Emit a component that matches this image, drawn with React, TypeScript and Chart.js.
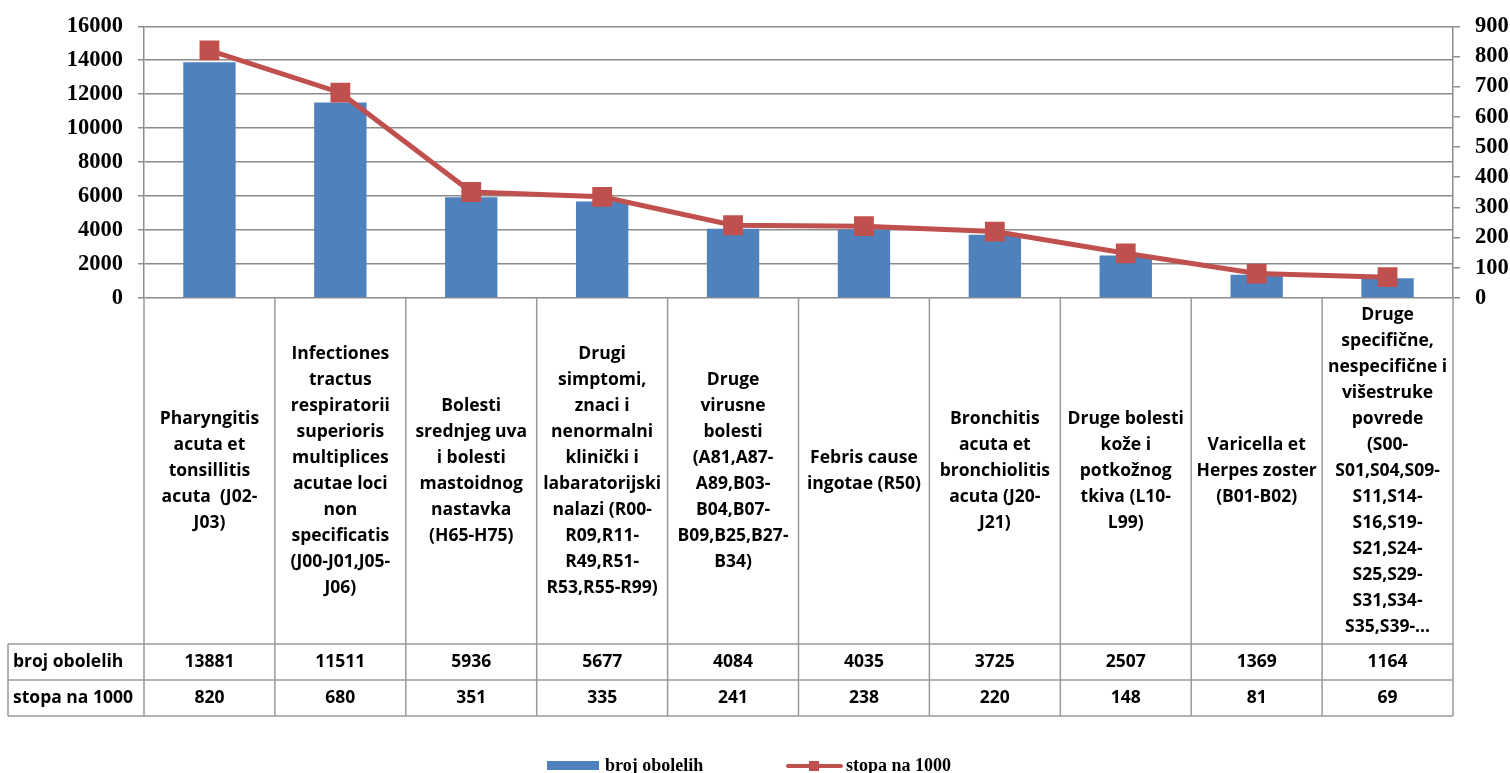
import React, { useEffect, useRef } from 'react';
import { Chart, registerables } from 'chart.js';

Chart.register(...registerables);

// ---------- DATA ----------
const categoryLabels: string[][] = [
  ['Pharyngitis', 'acuta et', 'tonsillitis', 'acuta  (J02-', 'J03)'],
  ['Infectiones', 'tractus', 'respiratorii', 'superioris', 'multiplices', 'acutae loci', 'non', 'specificatis', '(J00-J01,J05-', 'J06)'],
  ['Bolesti', 'srednjeg uva', 'i bolesti', 'mastoidnog', 'nastavka', '(H65-H75)'],
  ['Drugi', 'simptomi,', 'znaci i', 'nenormalni', 'klinički i', 'labaratorijski', 'nalazi (R00-', 'R09,R11-', 'R49,R51-', 'R53,R55-R99)'],
  ['Druge', 'virusne', 'bolesti', '(A81,A87-', 'A89,B03-', 'B04,B07-', 'B09,B25,B27-', 'B34)'],
  ['Febris cause', 'ingotae (R50)'],
  ['Bronchitis', 'acuta et', 'bronchiolitis', 'acuta (J20-', 'J21)'],
  ['Druge bolesti', 'kože i', 'potkožnog', 'tkiva (L10-', 'L99)'],
  ['Varicella et', 'Herpes zoster', '(B01-B02)'],
  ['Druge', 'specifične,', 'nespecifične i', 'višestruke', 'povrede', '(S00-', 'S01,S04,S09-', 'S11,S14-', 'S16,S19-', 'S21,S24-', 'S25,S29-', 'S31,S34-', 'S35,S39-...'],
];
const brojObolelih: number[] = [13881, 11511, 5936, 5677, 4084, 4035, 3725, 2507, 1369, 1164];
const stopaNa1000: number[] = [820, 680, 351, 335, 241, 238, 220, 148, 81, 69];
const seriesNames: string[] = ['broj obolelih', 'stopa na 1000'];
const leftAxisMax = 16000;
const leftAxisStep = 2000;
const rightAxisMax = 900;
const rightAxisStep = 100;

// ---------- STYLE ----------
const BLUE = '#4F81BD';
const RED = '#C0504D';
const GRID = '#8C8C8C';
const TABLE_LINE = '#9A9A9A';
const TABLE_FONT = '"Open Sans", "Liberation Sans", sans-serif';
const SERIF = '"Liberation Serif", "Times New Roman", serif';

const tablePlugin = {
  id: 'dataTable',
  afterDraw(chart: any) {
    const { ctx, chartArea, scales } = chart;
    const xs = scales.x;
    const n = categoryLabels.length;
    const left = chartArea.left;
    const right = chartArea.right;
    const colW = (right - left) / n;
    const top = chartArea.bottom;
    const headerBottom = top + 346;
    const row1Bottom = headerBottom + 36;
    const row2Bottom = row1Bottom + 36;
    const labelLeft = 8;

    ctx.save();
    ctx.strokeStyle = TABLE_LINE;
    ctx.lineWidth = 1.5;
    for (let i = 0; i <= n; i++) {
      const x = left + i * colW;
      ctx.beginPath();
      ctx.moveTo(x, top);
      ctx.lineTo(x, row2Bottom);
      ctx.stroke();
    }
    ctx.beginPath();
    ctx.moveTo(labelLeft, headerBottom);
    ctx.lineTo(labelLeft, row2Bottom);
    ctx.stroke();
    [headerBottom, row1Bottom, row2Bottom].forEach((y) => {
      ctx.beginPath();
      ctx.moveTo(labelLeft, y);
      ctx.lineTo(right, y);
      ctx.stroke();
    });

    ctx.fillStyle = '#000';
    ctx.font = `bold 17.5px ${TABLE_FONT}`;
    ctx.textAlign = 'center';
    ctx.textBaseline = 'middle';
    const headerMid = (top + headerBottom) / 2;
    const lh = 26;
    categoryLabels.forEach((lines, i) => {
      const cx = xs.getPixelForValue(i);
      lines.forEach((line, j) => {
        ctx.fillText(line, cx, headerMid + (j - (lines.length - 1) / 2) * lh);
      });
    });
    const r1 = (headerBottom + row1Bottom) / 2;
    const r2 = (row1Bottom + row2Bottom) / 2;
    brojObolelih.forEach((v, i) => ctx.fillText(String(v), xs.getPixelForValue(i), r1));
    stopaNa1000.forEach((v, i) => ctx.fillText(String(v), xs.getPixelForValue(i), r2));
    ctx.textAlign = 'left';
    ctx.fillText(seriesNames[0], labelLeft + 5, r1);
    ctx.fillText(seriesNames[1], labelLeft + 5, r2);

    // legend
    const ly = 766;
    ctx.font = `bold 18px ${SERIF}`;
    ctx.fillStyle = BLUE;
    ctx.fillRect(547, ly - 5, 52, 9);
    ctx.fillStyle = '#000';
    ctx.fillText(seriesNames[0], 605, ly);
    ctx.strokeStyle = RED;
    ctx.lineWidth = 4;
    ctx.lineCap = 'round';
    ctx.beginPath();
    ctx.moveTo(788, ly);
    ctx.lineTo(841, ly);
    ctx.stroke();
    ctx.fillStyle = RED;
    ctx.fillRect(809, ly - 5, 10, 10);
    ctx.fillStyle = '#000';
    ctx.fillText(seriesNames[1], 846, ly);
    ctx.restore();
  },
};

export default function App() {
  const ref = useRef<HTMLCanvasElement | null>(null);

  useEffect(() => {
    document.body.style.margin = '0';
    document.body.style.overflow = 'hidden';
    if (!ref.current) return;
    const tickFont = { family: SERIF, size: 22.5, weight: 'bold' as const, lineHeight: 1 };
    const plain = (v: any) => String(v);
    const chart = new Chart(ref.current, {
      type: 'bar',
      data: {
        labels: categoryLabels.map((l) => l.join(' ')),
        datasets: [
          {
            type: 'line',
            label: seriesNames[1],
            data: stopaNa1000,
            yAxisID: 'y1',
            borderColor: RED,
            backgroundColor: RED,
            borderWidth: 5,
            pointStyle: 'rect',
            pointRadius: 14,
            pointBorderWidth: 0,
            pointBackgroundColor: RED,
            tension: 0,
            order: 0,
          } as any,
          {
            type: 'bar',
            label: seriesNames[0],
            data: brojObolelih,
            yAxisID: 'y',
            backgroundColor: BLUE,
            borderWidth: 0,
            barPercentage: 0.4,
            categoryPercentage: 1,
            order: 1,
          },
        ],
      },
      options: {
        responsive: false,
        animation: false,
        devicePixelRatio: 1,
        layout: { padding: { top: 22, bottom: 57, left: 0, right: 0 } },
        plugins: { legend: { display: false }, tooltip: { enabled: false } },
        scales: {
          x: {
            type: 'category',
            offset: true,
            ticks: { display: false },
            grid: { display: false },
            border: { display: false },
            afterFit: (s: any) => {
              s.height = 418;
            },
          },
          y: {
            position: 'left',
            min: 0,
            max: leftAxisMax,
            ticks: { stepSize: leftAxisStep, color: '#000', font: tickFont, padding: 15, callback: plain, autoSkip: false },
            grid: { color: GRID, lineWidth: 1.5, tickLength: 6 },
            border: { color: GRID, width: 1.5 },
            afterFit: (s: any) => {
              s.width = 144;
            },
          },
          y1: {
            position: 'right',
            min: 0,
            max: rightAxisMax,
            ticks: { stepSize: rightAxisStep, color: '#000', font: tickFont, padding: 15, callback: plain, autoSkip: false },
            grid: { drawOnChartArea: false, color: GRID, lineWidth: 1.5, tickLength: 7 },
            border: { color: GRID, width: 1.5 },
            afterFit: (s: any) => {
              s.width = 57;
            },
          },
        },
      },
      plugins: [tablePlugin],
    });
    return () => chart.destroy();
  }, []);

  return (
    <div style={{ width: 1510, height: 773 }}>
      <canvas ref={ref} width={1510} height={773} style={{ display: 'block' }} />
    </div>
  );
}
